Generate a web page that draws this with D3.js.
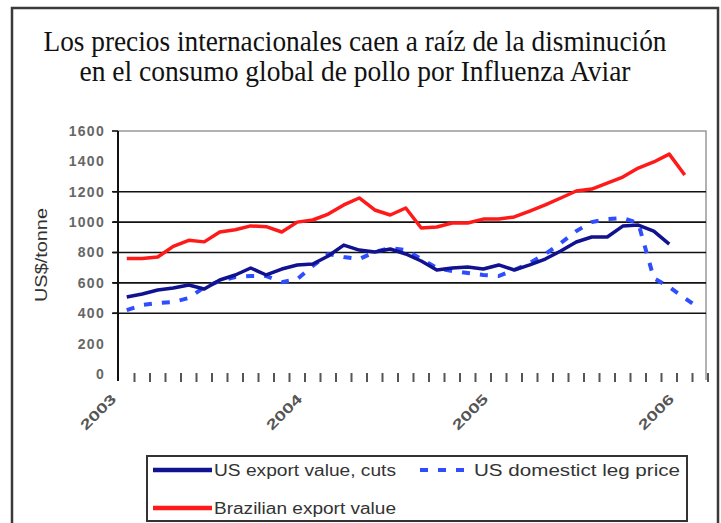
<!DOCTYPE html>
<html><head><meta charset="utf-8">
<script src="https://cdn.jsdelivr.net/npm/d3@7/dist/d3.min.js"></script>
<style>body{margin:0;background:#fff}svg{display:block}</style>
</head><body><svg id="c" width="721" height="523"></svg>
<script>
const categories = ["2003-01","2003-02","2003-03","2003-04","2003-05","2003-06","2003-07","2003-08","2003-09","2003-10","2003-11","2003-12",
"2004-01","2004-02","2004-03","2004-04","2004-05","2004-06","2004-07","2004-08","2004-09","2004-10","2004-11","2004-12",
"2005-01","2005-02","2005-03","2005-04","2005-05","2005-06","2005-07","2005-08","2005-09","2005-10","2005-11","2005-12",
"2006-01","2006-02"];
const brazilExport = [760,760,770,840,880,870,935,950,975,970,935,1000,1014,1053,1113,1159,1080,1047,1093,961,968,994,994,1020,1020,1034,1073,1113,1159,1205,1218,1257,1297,1356,1396,1448,1310,null];
const usExportCuts = [507,527,553,566,586,560,619,652,698,652,691,718,724,777,849,816,803,823,790,744,685,698,704,691,718,685,718,757,810,869,902,902,974,981,941,855,null,null];
const usDomesticLeg = [421,454,467,474,500,572,612,639,645,645,605,625,711,790,770,757,803,830,816,757,698,678,665,652,645,685,731,790,862,941,1000,1020,1027,994,632,573,500,428];
const yTickValues = [0,200,400,600,800,1000,1200,1400,1600];
const gridValues = [400,600,800,1000,1200];
const yTickMarks = [400,600,800,1000,1200,1600];
const yearTickCats = ["2003-01","2004-01","2005-01","2006-01"];
const yearTickLabels = ["2003","2004","2005","2006"];
const titleLines = ["Los precios internacionales caen a raíz de la disminución","en el consumo global de pollo por Influenza Aviar"];
const seriesNames = ["US export value, cuts","US domestict leg price","Brazilian export value"];

const svg = d3.select("#c");
const x = d3.scaleBand().domain(categories).range([119, 708]);
const y = d3.scaleLinear().domain([0,1600]).range([374,131]);
const cx = c => x(c) + x.bandwidth()/2;

// outer frame
svg.append("path").attr("d","M12,523V8H718V523").attr("fill","none").attr("stroke","#3a3a3a").attr("stroke-width",2.5);

// title
const tLens=[623,551], tY=[51,81];
titleLines.forEach((t,i)=>{
  svg.append("text").attr("x",355).attr("y",tY[i]).attr("text-anchor","middle")
    .attr("font-family","'Liberation Serif', serif").attr("font-size",29).attr("fill","#111")
    .attr("textLength",tLens[i]).attr("lengthAdjust","spacingAndGlyphs").text(t);
});

// plot border (grey)
svg.append("path").attr("d",`M118,${y(1600)}H706V380`).attr("fill","none").attr("stroke","#999").attr("stroke-width",1.5);

// gridlines
svg.append("g").selectAll("line").data(gridValues).join("line")
  .attr("x1",113).attr("x2",706).attr("y1",d=>y(d)).attr("y2",d=>y(d))
  .attr("stroke","#111").attr("stroke-width",1.6);
svg.append("g").selectAll("line").data(yTickMarks).join("line")
  .attr("x1",112).attr("x2",118).attr("y1",d=>y(d)).attr("y2",d=>y(d))
  .attr("stroke","#111").attr("stroke-width",1.6);

// y axis labels
const yAx = svg.append("g").attr("transform","translate(118,0)")
  .call(d3.axisLeft(y).tickValues(yTickValues).tickSize(0).tickPadding(13).tickFormat(d3.format("d")));
yAx.select(".domain").remove();
yAx.selectAll("text").attr("font-family","'Liberation Sans', Arial, sans-serif").attr("font-size",14)
  .attr("font-weight","bold").attr("fill","#666").attr("letter-spacing",1.3);
svg.append("line").attr("x1",118).attr("x2",118).attr("y1",y(1600)).attr("y2",381).attr("stroke","#111").attr("stroke-width",2);

// y title
svg.append("text").attr("transform","translate(41,255) rotate(-90)").attr("text-anchor","middle")
  .attr("dominant-baseline","central").attr("font-family","'Liberation Sans', Arial, sans-serif")
  .attr("font-size",16).attr("fill","#333").attr("textLength",94).attr("lengthAdjust","spacingAndGlyphs").text("US$/tonne");

// x ticks at category boundaries
const bounds = categories.map(c=>x(c)).concat([x.range()[1]]);
svg.append("g").selectAll("line").data(bounds.slice(1)).join("line")
  .attr("x1",d=>d).attr("x2",d=>d).attr("y1",373).attr("y2",382)
  .attr("stroke","#555").attr("stroke-width",2);

// year labels
svg.append("g").selectAll("text").data(yearTickCats).join("text")
  .attr("transform",d=>`translate(${x(d)-2},400) rotate(-45)`).attr("text-anchor","end")
  .attr("font-family","'Liberation Sans', Arial, sans-serif").attr("font-size",14).attr("font-weight","bold")
  .attr("fill","#555").attr("textLength",44).attr("lengthAdjust","spacingAndGlyphs")
  .text((d,i)=>yearTickLabels[i]);

// lines
const line = d3.line().defined(d=>d[1]!=null).x(d=>cx(d[0])).y(d=>y(d[1]));
const mk = arr => categories.map((c,i)=>[c,arr[i]]);
svg.append("path").datum(mk(brazilExport)).attr("d",line).attr("fill","none")
  .attr("stroke","#ff1a1a").attr("stroke-width",3.5).attr("stroke-linejoin","round");
svg.append("path").datum(mk(usDomesticLeg)).attr("d",line).attr("fill","none")
  .attr("stroke","#2e4dff").attr("stroke-width",4).attr("stroke-dasharray","8,10");
svg.append("path").datum(mk(usExportCuts)).attr("d",line).attr("fill","none")
  .attr("stroke","#10128f").attr("stroke-width",3.5).attr("stroke-linejoin","round");

// legend
const lg = svg.append("g");
lg.append("rect").attr("x",147).attr("y",456).attr("width",540).attr("height",65)
  .attr("fill","#fff").attr("stroke","#333").attr("stroke-width",2);
const legItems = [
  {name:seriesNames[0], color:"#10128f", dash:null, x1:153, x2:212, y:470, tx:214, tl:182},
  {name:seriesNames[1], color:"#2e4dff", dash:"8,10", x1:420, x2:472, y:470, tx:474, tl:206},
  {name:seriesNames[2], color:"#ff1a1a", dash:null, x1:153, x2:212, y:508, tx:214, tl:182}
];
legItems.forEach(d=>{
  lg.append("line").attr("x1",d.x1).attr("x2",d.x2).attr("y1",d.y).attr("y2",d.y)
    .attr("stroke",d.color).attr("stroke-width",d.dash?4:4.5).attr("stroke-dasharray",d.dash);
  lg.append("text").attr("x",d.tx).attr("y",d.y+5.5).attr("font-family","'Liberation Sans', Arial, sans-serif")
    .attr("font-size",16).attr("fill","#333").attr("textLength",d.tl).attr("lengthAdjust","spacingAndGlyphs").text(d.name);
});
</script></body></html>
